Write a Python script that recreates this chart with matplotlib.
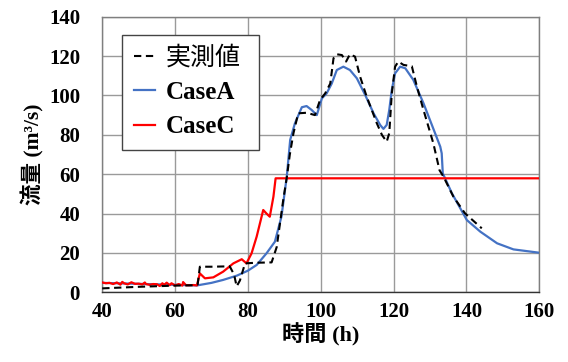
import numpy as np
import matplotlib.pyplot as plt

# hydrograph: observed discharge vs. two simulation cases
obs_t = [40, 45, 50, 55, 60, 65, 66.2, 66.8, 70, 75, 76.2, 76.9, 77.8, 79.2, 82, 86.5,
         87.9, 89.7, 90.7, 91.5, 92.5, 93.8, 96.1, 98.4, 99.8, 101.2, 102.6, 103.5,
         104.4, 105.8, 106.95, 108.0, 109.4, 110.8, 112.6, 115.4, 116.8, 118.1, 118.8,
         119.5, 120.4, 121.3, 122.7, 125.0, 126.4, 128.2, 130.9, 132.6, 133.7, 136.4,
         139.6, 144.2]
obs_q = [2.0, 2.4, 2.8, 3.1, 3.4, 3.6, 4.0, 13.0, 13.0, 13.2, 9.0, 3.0, 6.0, 14.7, 15.0, 15.2,
         23.0, 47.0, 58.7, 70.0, 80.8, 90.9, 91.2, 90.0, 97.7, 101.0, 106.0, 118.9,
         120.9, 120.5, 117.2, 120.9, 119.7, 109.5, 99.4, 85.8, 79.9, 76.5, 80.8,
         101.0, 114.6, 117.2, 115.5, 114.8, 104.4, 92.6, 75.7, 62.0, 58.7, 48.6,
         40.1, 32.5]

caseA_t = [40, 50, 60, 66, 70, 73.2, 77, 80, 82.4, 85.1, 87.4, 89.2, 90.66, 91.6, 92.9,
           94.8, 96.1, 97.5, 98.9, 100.3, 101.6, 103.0, 104.4, 106.2, 108.0, 109.9,
           112.2, 114.5, 116.3, 117.2, 118.1, 118.8, 119.5, 120.4, 121.8, 123.2, 125.4,
           128.2, 130.5, 132.8, 133.2, 133.5, 136.0, 140.1, 143.8, 148.4, 152.9, 160.0]
caseA_q = [4.8, 4.3, 3.8, 3.5, 4.8, 6.3, 8.5, 11.0, 13.9, 19.8, 25.7, 38.4, 58.7, 77.4, 85.8,
           94.0, 94.6, 92.6, 90.0, 98.5, 101.0, 106.0, 112.9, 114.6, 112.9, 108.7,
           100.2, 90.9, 85.0, 83.0, 85.0, 92.6, 102.8, 111.2, 114.6, 113.8, 107.9,
           96.0, 85.0, 74.0, 70.6, 60.4, 50.3, 36.7, 30.8, 24.9, 21.8, 20.1]

caseC_t = [40, 41, 42, 43, 44, 45, 45.5, 46, 47, 48, 49, 50, 51, 51.7, 52, 53, 54, 55, 55.8,
           56.5, 57, 57.7, 58.5, 59, 60, 61, 62, 62.2, 63, 64, 65, 66, 66.8, 68.2, 70.5,
           73.2, 76.0, 78.3, 79.6, 81.0, 82.4, 84.2, 85.1, 86.0, 87.0, 87.6, 100, 120, 140, 160]
caseC_q = [5.0, 4.6, 4.8, 4.2, 5.0, 3.9, 5.3, 4.6, 4.0, 5.1, 4.3, 4.4, 4.0, 5.0, 4.2, 3.8, 4.2,
           4.1, 3.2, 4.6, 3.8, 4.9, 3.6, 4.6, 3.5, 4.2, 3.4, 5.2, 3.6, 3.6, 3.7, 3.5, 9.6, 7.1,
           7.6, 10.5, 14.7, 16.8, 14.7, 19.8, 28.3, 41.8, 40.0, 38.4, 48.6, 57.9, 57.9, 57.9, 57.9, 57.9]

labels = ['実測値', 'CaseA', 'CaseC']
serif_jp = ['Liberation Serif', 'Noto Sans CJK JP']

fig = plt.figure(figsize=(5.68, 3.62), dpi=100)
ax = fig.add_axes([0.180, 0.1925, 0.7695, 0.7615])

ax.plot(obs_t, obs_q, color='black', lw=1.5, ls=(0, (3.5, 2.2)), label=labels[0], zorder=4)
ax.plot(caseA_t, caseA_q, color='#4472C4', lw=1.6, label=labels[1], zorder=3)
ax.plot(caseC_t, caseC_q, color='#FF0000', lw=1.6, label=labels[2], zorder=3)

ax.set_xlim(40, 160)
ax.set_ylim(0, 140)
ax.set_xticks(np.arange(40, 161, 20))
ax.set_yticks(np.arange(0, 141, 20))
ax.grid(True, color='#9a9a9a', lw=1.0)
ax.set_axisbelow(True)
for s in ax.spines.values():
    s.set_color('#7f7f7f')
    s.set_linewidth(1.0)
ax.spines['bottom'].set_color('#333333')
ax.tick_params(length=0)
ax.tick_params(axis='y', pad=16)
ax.tick_params(axis='x', pad=7)
for lab in ax.get_xticklabels() + ax.get_yticklabels():
    lab.set_fontfamily('Liberation Serif')
    lab.set_fontweight('bold')
    lab.set_fontsize(15)

ax.set_xlabel('時間 (h)', family=serif_jp, fontweight='bold', fontsize=16, labelpad=1)
ax.set_ylabel('流量 (m³/s)', family=serif_jp, fontweight='bold', fontsize=15.5, labelpad=3)

# legend box stretched to a fixed width
leg = ax.legend(loc='upper left', bbox_to_anchor=(0.046, 0.508, 0.313, 0.426), mode='expand',
                fancybox=False, framealpha=1, edgecolor='#444444', handlelength=0.85,
                handletextpad=0.45, labelspacing=0.45, borderpad=0.45, borderaxespad=0,
                prop={'family': serif_jp, 'weight': 'bold', 'size': 18})
leg.get_frame().set_linewidth(1.0)
leg.get_texts()[0].set_fontweight('normal')

fig.savefig('out.png', dpi=100)
